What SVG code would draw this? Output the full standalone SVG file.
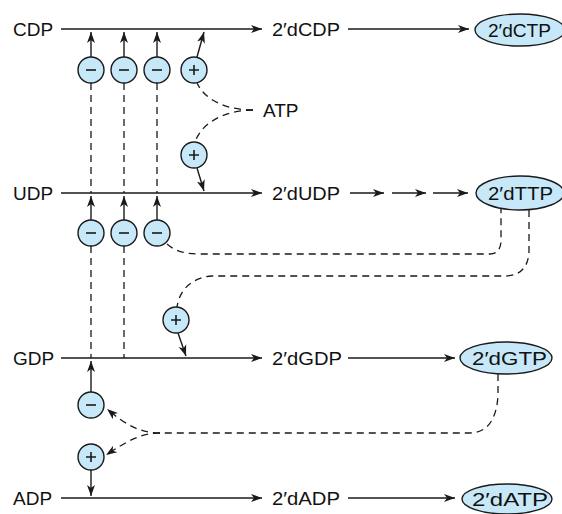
<svg xmlns="http://www.w3.org/2000/svg" width="562" height="514" viewBox="0 0 562 514">
<style>
text{font-family:"Liberation Sans",Arial,Helvetica,sans-serif;font-size:19px;fill:#111}
.reg{fill:#c6e8f8;stroke:#1a1a1a;stroke-width:1.4}
.sign{stroke:#1a1a1a;stroke-width:1.6;fill:none}
.ln{stroke:#1a1a1a;stroke-width:1.4;fill:none}
.ar{stroke:#1a1a1a;stroke-width:1.4;fill:none;marker-end:url(#ah)}
.ds{stroke:#1a1a1a;stroke-width:1.3;fill:none;stroke-dasharray:7 5}
.dsa{stroke:#1a1a1a;stroke-width:1.3;fill:none;stroke-dasharray:7 5;marker-end:url(#ah)}
</style>
<defs>
<marker id="ah" markerUnits="userSpaceOnUse" markerWidth="12" markerHeight="9" refX="11" refY="4" orient="auto" overflow="visible">
<path d="M0,0 L11,4 L0,8 L3,4 Z" fill="#1a1a1a"/>
</marker>
</defs>

<g id="connectors">
<!-- main reactions -->
<line class="ar" x1="61" y1="29" x2="262" y2="29"/>
<line class="ar" x1="348" y1="29" x2="469" y2="29"/>
<line class="ar" x1="61" y1="193" x2="262" y2="193"/>
<line class="ar" x1="350" y1="193" x2="384" y2="193"/>
<line class="ar" x1="392" y1="193" x2="426" y2="193"/>
<line class="ar" x1="433" y1="193" x2="468" y2="193"/>
<line class="ar" x1="61" y1="358" x2="262" y2="358"/>
<line class="ar" x1="348" y1="358" x2="455" y2="358"/>
<line class="ar" x1="61" y1="498" x2="262" y2="498"/>
<line class="ar" x1="348" y1="498" x2="455" y2="498"/>
<!-- regulator arrows -->
<line class="ar" x1="91" y1="57" x2="91" y2="32"/>
<line class="ar" x1="124" y1="57" x2="124" y2="32"/>
<line class="ar" x1="157" y1="57" x2="157" y2="32"/>
<line class="ar" x1="197" y1="57" x2="204" y2="32"/>
<line class="ar" x1="197" y1="168" x2="204" y2="191"/>
<line class="ar" x1="91" y1="220" x2="91" y2="196"/>
<line class="ar" x1="124" y1="220" x2="124" y2="196"/>
<line class="ar" x1="157" y1="220" x2="157" y2="196"/>
<line class="ar" x1="178" y1="333" x2="186" y2="356"/>
<line class="ar" x1="91" y1="392" x2="91" y2="361"/>
<line class="ar" x1="91" y1="470" x2="91" y2="496"/>
<!-- dashed effector lines -->
<line class="ds" x1="91" y1="83" x2="91" y2="193"/>
<line class="ds" x1="124" y1="83" x2="124" y2="193"/>
<line class="ds" x1="157" y1="83" x2="157" y2="193"/>
<line class="ds" x1="91" y1="246" x2="91" y2="358"/>
<line class="ds" x1="124" y1="246" x2="124" y2="358"/>
<path class="ds" d="M253,110 C226,110 205,100 197,83"/>
<path class="ds" d="M253,110 C226,110 202,122 195,142"/>
<path class="ds" d="M167,244 C175,251 185,254 200,254 L490,254 C498,254 501,248 501,240 L501,209"/>
<path class="ds" d="M529,210 L529,250 C529,265 522,276 505,276 L212,276 C195,277 180,287 177,307"/>
<path class="ds" d="M498,374 L498,395 C497,415 490,433 470,433 L160,433"/>
<path class="dsa" d="M160,433 C140,433 126,425 107,409"/>
<path class="dsa" d="M160,433 C140,433 126,442 106,455"/>
</g>

<g id="CDP"><text x="13" y="36">CDP</text></g>
<g id="UDP"><text x="13" y="200">UDP</text></g>
<g id="GDP"><text x="13" y="365">GDP</text></g>
<g id="ADP"><text x="13" y="505">ADP</text></g>
<g id="dCDP"><text x="272" y="36" textLength="68" lengthAdjust="spacingAndGlyphs">2′dCDP</text></g>
<g id="dUDP"><text x="272" y="200" textLength="68" lengthAdjust="spacingAndGlyphs">2′dUDP</text></g>
<g id="dGDP"><text x="272" y="365" textLength="70" lengthAdjust="spacingAndGlyphs">2′dGDP</text></g>
<g id="dADP"><text x="272" y="505" textLength="68" lengthAdjust="spacingAndGlyphs">2′dADP</text></g>
<g id="ATP"><text x="263" y="117">ATP</text></g>

<g id="dCTP"><ellipse class="reg" cx="520" cy="30" rx="45" ry="16"/><text x="488" y="37" textLength="63" lengthAdjust="spacingAndGlyphs">2′dCTP</text></g>
<g id="dTTP"><ellipse class="reg" cx="520" cy="193" rx="44" ry="17"/><text x="488" y="200" textLength="65" lengthAdjust="spacingAndGlyphs">2′dTTP</text></g>
<g id="dGTP"><ellipse class="reg" cx="506" cy="358" rx="46" ry="16"/><text x="472" y="365" textLength="75" lengthAdjust="spacingAndGlyphs">2′dGTP</text></g>
<g id="dATP"><ellipse class="reg" cx="507" cy="499" rx="45" ry="15"/><text x="472" y="506" textLength="76" lengthAdjust="spacingAndGlyphs">2′dATP</text></g>

<g id="inh_c1"><circle class="reg" cx="91" cy="70" r="13"/><line class="sign" x1="86" y1="70" x2="96" y2="70"/></g>
<g id="inh_c2"><circle class="reg" cx="124" cy="70" r="13"/><line class="sign" x1="119" y1="70" x2="129" y2="70"/></g>
<g id="inh_c3"><circle class="reg" cx="157" cy="70" r="13"/><line class="sign" x1="152" y1="70" x2="162" y2="70"/></g>
<g id="act_c"><circle class="reg" cx="194" cy="70" r="13"/><path class="sign" d="M189,70 H199 M194,65 V75"/></g>
<g id="act_u"><circle class="reg" cx="194" cy="155" r="13"/><path class="sign" d="M189,155 H199 M194,150 V160"/></g>
<g id="inh_u1"><circle class="reg" cx="91" cy="233" r="13"/><line class="sign" x1="86" y1="233" x2="96" y2="233"/></g>
<g id="inh_u2"><circle class="reg" cx="124" cy="233" r="13"/><line class="sign" x1="119" y1="233" x2="129" y2="233"/></g>
<g id="inh_u3"><circle class="reg" cx="157" cy="233" r="13"/><line class="sign" x1="152" y1="233" x2="162" y2="233"/></g>
<g id="act_g"><circle class="reg" cx="176" cy="320" r="13"/><path class="sign" d="M171,320 H181 M176,315 V325"/></g>
<g id="inh_g"><circle class="reg" cx="91" cy="405" r="13"/><line class="sign" x1="86" y1="405" x2="96" y2="405"/></g>
<g id="act_a"><circle class="reg" cx="91" cy="457" r="13"/><path class="sign" d="M86,457 H96 M91,452 V462"/></g>
</svg>
